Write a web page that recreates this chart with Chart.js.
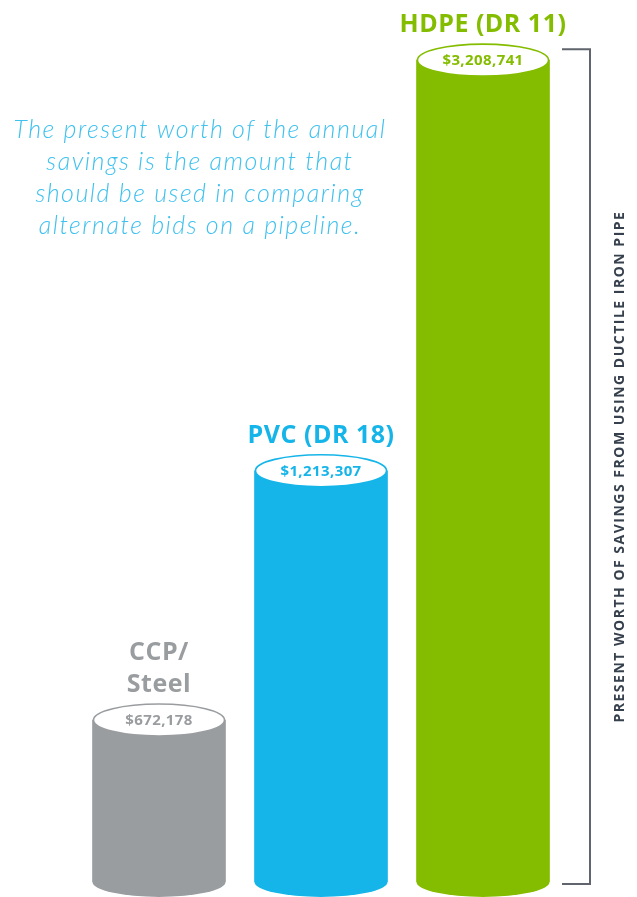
<!DOCTYPE html>
<html>
<head>
<meta charset="utf-8">
<script src="https://cdn.jsdelivr.net/npm/chart.js@4.4.1/dist/chart.umd.min.js"></script>
<style>
  html, body { margin: 0; padding: 0; background: #fff; }
  #wrap { position: relative; width: 637px; height: 897px; }
</style>
</head>
<body>
<div id="wrap"><canvas id="chart"></canvas></div>
<script>
// Pipe material savings vs ductile iron, drawn as cylinders.
const categories = [['CCP/', 'Steel'], ['PVC (DR 18)'], ['HDPE (DR 11)']];
const savings = [672178, 1213307, 3208741];
const barColors = ['#9a9da0', '#15b5e9', '#84bd00'];
const noteLines = [
    'The present worth of the annual',
    'savings is the amount that',
    'should be used in comparing',
    'alternate bids on a pipeline.'
];
const axisTitle = 'PRESENT WORTH OF SAVINGS FROM USING DUCTILE IRON PIPE';
// hidden value axis bounds
const yMin = 458000;
const yMax = 3700000;

const ELLIPSE_RY = 16;

// rounded bottoms, open tops, value text and names
const cylinders = {
    id: 'cylinders',
    afterDatasetsDraw(chart) {
        const ctx = chart.ctx;
        const meta = chart.getDatasetMeta(0);
        meta.data.forEach((bar, i) => {
            const color = barColors[i];
            const rx = bar.width / 2;
            ctx.save();
            ctx.fillStyle = color;
            ctx.beginPath();
            ctx.ellipse(bar.x, bar.base, rx, ELLIPSE_RY - 1, 0, 0, Math.PI);
            ctx.fill();

            ctx.beginPath();
            ctx.ellipse(bar.x, bar.y, rx - 1, ELLIPSE_RY, 0, 0, Math.PI * 2);
            ctx.fillStyle = '#fff';
            ctx.fill();
            ctx.lineWidth = 1.6;
            ctx.strokeStyle = color;
            ctx.stroke();

            ctx.fillStyle = color;
            ctx.textAlign = 'center';
            ctx.textBaseline = 'middle';
            ctx.font = 'bold 15px "Open Sans"';
            ctx.letterSpacing = '0.4px';
            ctx.fillText('$' + savings[i].toLocaleString('en-US'), bar.x, bar.y + 1);

            ctx.textBaseline = 'alphabetic';
            ctx.font = 'bold 25px "Open Sans"';
            ctx.letterSpacing = '0.5px';
            const lines = categories[i];
            lines.forEach((line, j) => {
                ctx.fillText(line, bar.x, bar.y - ELLIPSE_RY - 12 - (lines.length - 1 - j) * 32);
            });
            ctx.restore();
        });
    }
};

// note text, bracket and rotated axis title
const extras = {
    id: 'extras',
    afterDraw(chart) {
        const ctx = chart.ctx;
        const area = chart.chartArea;
        const yScale = chart.scales.y;
        ctx.save();
        ctx.fillStyle = '#3fc1ee';
        ctx.textAlign = 'center';
        ctx.textBaseline = 'alphabetic';
        ctx.font = 'italic 300 25px Lato';
        ctx.letterSpacing = '1.5px';
        noteLines.forEach((line, i) => ctx.fillText(line, 200, 138 + i * 32));

        const top = yScale.getPixelForValue(Math.max(...savings)) - 11;
        const bottom = area.bottom + 2;
        ctx.strokeStyle = '#5f646d';
        ctx.lineWidth = 2;
        ctx.beginPath();
        ctx.moveTo(area.right - 2, top);
        ctx.lineTo(area.right + 26, top);
        ctx.lineTo(area.right + 26, bottom);
        ctx.lineTo(area.right - 2, bottom);
        ctx.stroke();

        ctx.translate(area.right + 56, (top + bottom) / 2);
        ctx.rotate(-Math.PI / 2);
        ctx.fillStyle = '#36414d';
        ctx.textBaseline = 'middle';
        ctx.font = 'bold 14px "Open Sans"';
        ctx.letterSpacing = '1.5px';
        ctx.fillText(axisTitle, 0, 0);
        ctx.restore();
    }
};

new Chart(document.getElementById('chart'), {
    type: 'bar',
    data: {
        labels: categories,
        datasets: [{
            data: savings,
            backgroundColor: barColors,
            borderWidth: 0,
            barThickness: 133
        }]
    },
    options: {
        responsive: true,
        maintainAspectRatio: false,
        animation: false,
        layout: { padding: { left: 78, right: 73, top: 0, bottom: 15 } },
        scales: {
            x: { display: false },
            y: { display: false, type: 'logarithmic', min: yMin, max: yMax, bounds: 'data' }
        },
        plugins: {
            legend: { display: false },
            tooltip: { enabled: false }
        }
    },
    plugins: [cylinders, extras]
});
</script>
</body>
</html>
